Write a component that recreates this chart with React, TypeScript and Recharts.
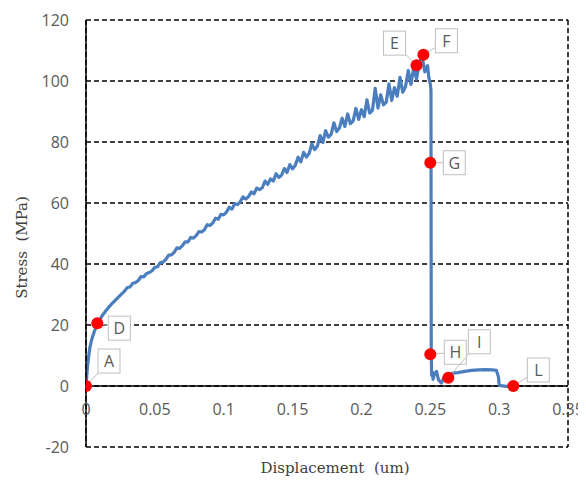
import React from 'react';
import {
  ComposedChart,
  Line,
  Scatter,
  XAxis,
  YAxis,
  CartesianGrid,
  ReferenceLine,
  ReferenceDot,
} from 'recharts';

// Stress–displacement record (displacement in um, stress in MPa)
const displacement = [
  0, 0.0005, 0.001, 0.002, 0.003, 0.004, 0.005, 0.006, 0.008, 0.01, 0.012, 0.015, 0.018, 0.021, 0.025, 0.028,
  0.03, 0.032, 0.034, 0.036, 0.038, 0.04, 0.042, 0.044, 0.046, 0.048,
  0.05, 0.052, 0.054, 0.056, 0.058, 0.06, 0.062, 0.064, 0.066, 0.068,
  0.07, 0.072, 0.074, 0.076, 0.078, 0.08, 0.082, 0.084, 0.086, 0.088,
  0.09, 0.092, 0.094, 0.096, 0.098, 0.1, 0.102, 0.104, 0.106, 0.108,
  0.11, 0.112, 0.114, 0.116, 0.118, 0.12, 0.122, 0.124, 0.126, 0.128,
  0.13, 0.132, 0.134, 0.136, 0.138, 0.14, 0.142, 0.144, 0.146, 0.148,
  0.15, 0.152, 0.154, 0.156, 0.158, 0.16, 0.162, 0.164, 0.166, 0.168,
  0.17, 0.172, 0.174, 0.176, 0.178, 0.18, 0.182, 0.184, 0.186, 0.188,
  0.19, 0.192, 0.194, 0.196, 0.198, 0.2, 0.202, 0.204, 0.206, 0.208,
  0.21, 0.212, 0.214, 0.216, 0.218, 0.22, 0.222, 0.224, 0.226, 0.228,
  0.23, 0.232, 0.234, 0.236, 0.238, 0.24, 0.242, 0.244, 0.246, 0.248,
  0.249, 0.25, 0.2505, 0.2507, 0.251, 0.2515, 0.252, 0.253, 0.2545, 0.256, 0.258,
  0.26, 0.263, 0.266, 0.27, 0.275, 0.28, 0.285, 0.29, 0.295, 0.298, 0.2995,
  0.3, 0.305, 0.31,
];

const stress = [
  0, 3, 6, 10, 13, 15, 16.5, 17.8, 20.2, 21.8, 23.2, 25, 26.6, 28, 29.8, 31.1,
  32.3, 32.5, 33.7, 33.9, 34.6, 35.9, 35.8, 36.9, 37.2, 37.8,
  38.9, 39.1, 40.5, 40.6, 41.5, 42.9, 43.0, 43.8, 45.3, 45.1,
  46.0, 47.3, 47.2, 48.7, 48.5, 49.3, 50.6, 50.5, 51.2, 52.9,
  52.6, 53.4, 55.0, 54.7, 56.3, 56.1, 57.0, 58.6, 58.0, 59.8,
  59.5, 60.4, 62.0, 61.3, 62.1, 63.6, 63.0, 64.9, 64.4, 65.0,
  67.2, 66.1, 67.9, 67.2, 69.6, 68.4, 69.1, 71.3, 70.0, 72.6,
  71.2, 72.4, 75.0, 73.5, 76.6, 75.1, 76.2, 79.4, 77.5, 78.6,
  82.1, 79.8, 83.7, 81.6, 82.5, 86.3, 83.4, 84.6, 87.8, 85.1,
  89.2, 86.0, 86.9, 91.0, 87.4, 90.6, 88.3, 93.8, 89.5, 90.4,
  97.6, 91.1, 95.5, 92.2, 93.0, 99.1, 93.6, 97.8, 95.0, 101.2,
  96.3, 98.1, 103.4, 98.9, 104.6, 100.6, 106.0, 108.2, 103.0, 105.0,
  101.0, 99.0, 97.0, 10.0, 3.5, 4.6, 2.2, 3.8, 4.8, 2.0, 1.0,
  2.8, 2.9, 4.2, 4.4, 4.8, 5.1, 5.3, 5.4, 5.3, 5.1, 3.0,
  0.2, -0.1, 0.0,
];

// Marked states along the curve
const markerNames = ['A', 'D', 'E', 'F', 'G', 'H', 'I', 'L'];
const markerDisplacement = [0, 0.0082, 0.24, 0.245, 0.25, 0.25, 0.2631, 0.3103];
const markerStress = [0, 20.6, 105.2, 108.6, 73.2, 10.4, 2.7, 0];

const xTicks = [0, 0.05, 0.1, 0.15, 0.2, 0.25, 0.3, 0.35];
const xTickLabels = ['0', '0.05', '0.1', '0.15', '0.2', '0.25', '0.3', '0.35'];
const yTicks = [-20, 0, 20, 40, 60, 80, 100, 120];

const curve = displacement.map((x, i) => ({ x, y: stress[i] }));
const markers = markerNames.map((name, i) => ({
  name,
  x: markerDisplacement[i],
  y: markerStress[i],
}));

// Callout box placement relative to each marker (px)
const calloutOffset: Record<string, [number, number]> = {
  A: [23, -25],
  D: [22, 5],
  E: [-22, -22],
  F: [23, -14],
  G: [24, 0],
  H: [25, -2],
  I: [31, -36],
  L: [25, -16],
};

const TICK_FONT = '"Open Sans", sans-serif';
const TITLE_FONT = '"DejaVu Serif", serif';
const GREY = '#595959';
const LINE_BLUE = '#4a7ebf';

const BOX_W = 22;
const BOX_H = 24;

function MarkerShape(props: any) {
  const { cx, cy, payload } = props;
  if (cx == null || cy == null) return null;
  const [dx, dy] = calloutOffset[payload.name] || [20, -20];
  const bx = cx + dx;
  const by = cy + dy;
  return (
    <g>
      <line x1={cx} y1={cy} x2={bx} y2={by} stroke="#bfbfbf" strokeWidth={1} />
      <rect
        x={bx - BOX_W / 2}
        y={by - BOX_H / 2}
        width={BOX_W}
        height={BOX_H}
        fill="#ffffff"
        stroke="#bfbfbf"
        strokeWidth={1}
      />
      <text
        x={bx}
        y={by}
        textAnchor="middle"
        dominantBaseline="central"
        fontFamily={TICK_FONT}
        fontSize={16}
        fill={GREY}
      >
        {payload.name}
      </text>
      <circle cx={cx} cy={cy} r={6} fill="#ff0000" />
    </g>
  );
}

function XTitle(props: any) {
  const vb = props.viewBox;
  return (
    <text
      x={vb.x + vb.width / 2 + 8}
      y={vb.y + 26}
      textAnchor="middle"
      fontFamily={TITLE_FONT}
      fontSize={15}
      fill="#404040"
      style={{ whiteSpace: 'pre' }}
    >
      Displacement  (um)
    </text>
  );
}

function YTitle(props: any) {
  const vb = props.viewBox;
  const cx = vb.x + 14;
  const cy = vb.y + vb.height / 2 + 14;
  return (
    <text
      x={cx}
      y={cy}
      transform={`rotate(-90, ${cx}, ${cy})`}
      textAnchor="middle"
      dominantBaseline="central"
      fontFamily={TITLE_FONT}
      fontSize={15}
      fill="#404040"
      style={{ whiteSpace: 'pre' }}
    >
      Stress  (MPa)
    </text>
  );
}

export default function App() {
  return (
    <ComposedChart
      width={578}
      height={473}
      margin={{ top: 12, right: 18, bottom: 0, left: 0 }}
    >
      <CartesianGrid stroke="#000000" strokeWidth={1.5} strokeDasharray="5 3" />
      <XAxis
        type="number"
        dataKey="x"
        domain={[0, 0.35]}
        ticks={xTicks}
        tick={false}
        tickLine={false}
        axisLine={false}
        height={34}
        allowDataOverflow
        label={<XTitle />}
      />
      <YAxis
        type="number"
        domain={[-20, 120]}
        ticks={yTicks}
        width={78}
        tickLine={false}
        tickSize={0}
        tickMargin={17}
        axisLine={{ stroke: '#000000', strokeWidth: 1.5 }}
        tick={{ fill: GREY, fontSize: 16, fontFamily: TICK_FONT }}
        label={<YTitle />}
      />
      <ReferenceLine y={0} stroke="#000000" strokeWidth={1.5} />
      {xTicks.map((t, i) => (
        <ReferenceDot
          key={t}
          x={t}
          y={0}
          r={0}
          fill="none"
          stroke="none"
          label={{
            value: xTickLabels[i],
            position: 'bottom',
            offset: 18,
            fill: GREY,
            fontSize: 16,
            fontFamily: TICK_FONT,
          }}
        />
      ))}
      <Line
        data={curve}
        dataKey="y"
        type="linear"
        stroke={LINE_BLUE}
        strokeWidth={3.2}
        strokeLinejoin="round"
        dot={false}
        activeDot={false}
        isAnimationActive={false}
      />
      <Scatter
        data={markers}
        dataKey="y"
        shape={<MarkerShape />}
        isAnimationActive={false}
      />
    </ComposedChart>
  );
}
